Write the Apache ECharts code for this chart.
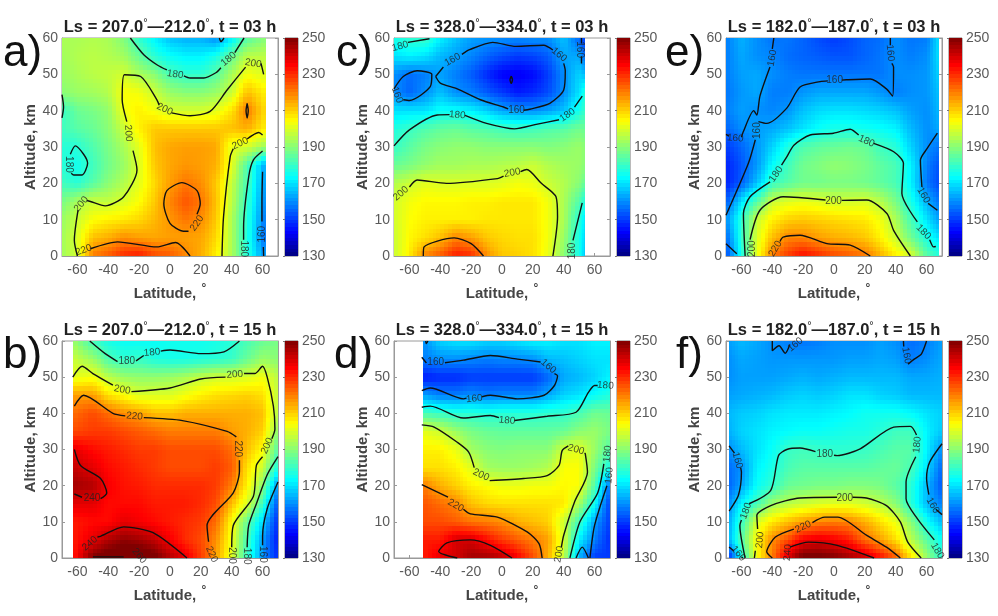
<!DOCTYPE html>
<html><head><meta charset="utf-8">
<style>html,body{margin:0;padding:0;background:#fff}#c{width:998px;height:616px}</style>
<script src="https://cdn.jsdelivr.net/npm/echarts@6/dist/echarts.min.js"></script>
</head><body><div id="c"></div>
<script>
const altitudes=[60,55,50,45,40,35,30,25,20,15,10,5,0];
const latTicks=[-60,-40,-20,0,20,40,60];
const cbTicks=[130,150,170,190,210,230,250];

const latsA=[-70,-60,-50,-40,-30,-20,-10,0,10,20,30,40,50,62];
const tempA=[
[194,194,195,194,189,179,172,166,164,164,160,172,184,190],
[193,195,196,195,193,186,178,174,172,172,176,186,196,196],
[192,194,196,197,199,194,190,182,179,179,184,194,203,200],
[190,192,193,195,204,203,198,192,190,190,192,198,212,206],
[180,186,188,191,203,206,203,199,199,199,201,208,220,208],
[181,184,186,190,198,206,211,211,211,211,211,212,214,206],
[178,178,183,188,194,201,212,215,216,216,215,201,199,192],
[178,175,181,187,192,200,211,215,217,216,214,201,183,162],
[181,178,184,190,195,201,209,216,221,218,211,197,182,160],
[188,194,198,197,200,204,211,219,225,221,212,196,180,158],
[192,198,204,206,207,209,213,217,221,218,211,194,178,156],
[193,200,212,214,218,216,215,216,216,215,209,194,177,155],
[193,199,220,224,230,232,226,224,219,214,206,194,178,160]];
const contoursA=[
[[-25.7,60],[-17,55.4],[-8,52.5],[-2,51.2]],[[9,49.6],[13,49],[22,49],[30,50.5],[33,51.8]],[[42,56],[48,60]],
[[32,60],[33,59],[35,60]],
[[-60,0],[-62,4.3],[-59.6,12.6]],[[-54,15.3],[-51.6,15],[-42,13.8],[-30,16.3],[-21.4,23.7],[-24,29]],[[-28,37],[-31,43],[-29.6,49.9],[-19,49.4],[-8.5,43],[-7,41.5]],[[1,39.4],[13,38.6],[26,39.8],[37,45.7],[49,52]],[[59,53],[60.7,50]],
[[-51.6,2],[-34,3.9],[-8.5,2.5],[3.5,3.7],[13,0]],
[[17.5,11.5],[19.6,14.4],[17.5,18],[7.7,20.2],[-2,18],[-4,14.4],[0,9],[8.8,6.8],[12,6.8]],
[[-64.6,28],[-61.4,30.3],[-56,28],[-53.4,25.5],[-57,22.3],[-62.4,22.3],[-64,22.8]],
[[-70,44.4],[-69,41],[-70,38]],
[[33.7,0],[34.7,10.8],[39,27.3],[41,29.5]],[[50,32.2],[57.5,34],[60,33.3]],
[[47.7,4.5],[47.7,8],[51,21.8],[54,26.4],[60,28.9]],
[[60.7,0],[60.5,2.5]],[[59.6,9.5],[59.6,15],[60,23.2]],
[[50,42],[50.7,40],[50,38],[49.3,40],[50,42]]];
const labelsA=[[3.4,50,'180',-8],[38,54.2,'180',40],[54,53,'200',-10],[-3.5,40.4,'200',-25],[-27,33.8,'200',-85],[-65.7,25.2,'180',-90],[-57.5,14.3,'200',50],[17.5,9,'220',55],[-56,1.6,'220',20],[45.5,31,'200',25],[48,2,'180',-90],[60,6,'160',90]];
const notchA=[-68,-66,0.8];

const latsB=[-63,-50,-40,-30,-20,-10,0,10,20,30,40,50,60,70];
const tempB=[
[192,181,176,174,174,174,175,175,175,176,178,182,186,188],
[198,192,183,179,180,177,176,176,177,178,180,186,192,190],
[201,203,196,192,191,191,192,194,197,199,199,200,203,196],
[216,216,208,204,200,200,200,203,206,208,209,210,208,197],
[222,226,222,218,216,212,212,214,214,214,214,214,212,195],
[226,228,228,226,224,222,220,220,220,220,216,214,210,190],
[238,234,232,230,228,228,226,226,226,226,222,212,204,183],
[242,238,234,232,230,228,226,226,226,228,224,208,198,176],
[246,244,236,233,232,230,230,230,230,228,220,206,190,160],
[238,238,234,234,234,232,232,232,230,226,212,200,180,152],
[232,234,234,238,236,234,232,230,228,222,204,186,168,148],
[232,238,244,248,246,242,236,230,226,218,202,182,162,146],
[232,250,254,256,256,252,244,238,228,216,200,180,160,148]];
const contoursB=[
[[-52,60],[-42,56.5],[-34,54.3]],[[-22,54.5],[-17,56]],[[-6,57.2],[0,57.5],[20,56.5],[35,57],[45,60]],
[[-63,50],[-57,53],[-50,51],[-37,47.8]],[[-25,46],[0,47],[20,49.5],[36,50]],[[48,51],[55,51],[60,53],[63,50],[67,42],[68,35.7],[66,33]],[[60,28],[56,25.6],[54,17],[41,9],[40,3]],
[[70,28],[63,23],[56,15],[51,9],[50,3]],
[[70,21],[63,13.6],[60,6],[60,3.5]],
[[-62,42],[-56,45],[-37,40],[-29,39.3]],[[-17,38.8],[8,38],[37,35],[43,33.5]],[[45,27],[45,24],[41,18],[24,9],[25,4.5]],
[[-62,30],[-58,25.6],[-45,22],[-41,18],[-45,16.4]],[[-57,16.8],[-62,17.7]],
[[-47,5.8],[-45,6],[-30,8.6],[-11,7],[11,0]],
[[-50,0.3],[-30,0.3]]];
const labelsB=[[-28,54.3,'180',0],[-11.7,56.8,'180',5],[-31,46.5,'200',-10],[42,50.7,'200',5],[-23,39.2,'220',-5],[44,30.2,'220',-90],[63,31,'200',65],[-50.5,16.4,'240',0],[-52,4,'240',40],[27,1,'220',-65],[40,0.7,'200',-90],[50,0.5,'180',-90],[60,1,'160',-90],[-20,0.6,'260',-50]];
const notchB=[-63,-60.5,1];

const latsC=[-70,-60,-50,-40,-30,-20,-10,0,10,20,30,40,50,54];
const tempC=[
[176,179,180,172,166,162,161,160,159,160,160,166,155,150],
[170,172,170,165,162,159,155,152,150,151,154,163,163,155],
[160,156,158,162,158,154,148,143,142,144,150,160,168,165],
[160,155,160,166,160,158,154,150,146,148,152,160,170,178],
[170,170,170,174,174,172,168,163,161,160,162,166,176,180],
[177,180,183,185,186,184,183,181,180,181,183,184,187,186],
[180,184,188,190,191,191,190,190,190,190,189,190,192,190],
[186,188,191,193,193,194,194,195,196,198,195,193,192,190],
[195,198,201,200,200,200,200,201,203,202,198,195,190,185],
[199,203,205,205,205,206,206,207,207,207,203,194,183,176],
[199,204,206,206,206,206,207,207,207,207,203,194,178,170],
[198,205,208,212,219,216,211,209,208,208,203,192,176,168],
[198,206,219,224,232,230,218,211,210,208,202,190,176,166]];
const contoursC=[
[[-61,58.8],[-47,59.8]],
[[-43,49.4],[-38,52]],[[-26,55.5],[-21,56.8],[-6,58.8],[9,57.7],[27,58],[33,56.7]],[[40,53],[41,51],[40,45.7],[31,42],[18,40.4],[14,40.1]],[[4,40.5],[1,41],[-14,43],[-29,46],[-40,47.6],[-43,49.4]],
[[-70,46],[-64,49.4],[-55,51],[-45.5,50],[-46.5,46.6],[-60,42.8],[-64,43]],
[[51.5,60],[51.5,58.5]],[[51.5,55],[51.5,53]],
[[6,49.5],[6.8,48.5],[6,47.5],[5.2,48.5],[6,49.5]],
[[-70,30.3],[-60,34.7],[-42,38.8],[-34,38.9]],[[-24,38.7],[-10,36.5],[8,35],[23,36.3],[37,37.5]],[[47,41],[52,44]],
[[-60,19],[-55,20.9],[-36,20],[-3,21.3],[1,22]],[[12,23.2],[16,23.8],[25.5,20],[35,16.3],[36,10.8],[33,0]],
[[-51,0],[-50.5,2.5],[-31,5],[-20,3.4],[-12,0]],
[[52,14.6],[46,4.3]]];
const labelsC=[[-66,57.7,'180',15],[-32,54,'160',30],[37,55.4,'160',-40],[50.6,56.8,'160',-90],[9.4,40.2,'160',0],[-29,38.8,'180',-5],[42.4,38.8,'180',35],[-68,44.3,'160',-70],[-65.5,17.2,'200',40],[6.6,22.9,'200',10],[45.6,1.4,'180',90]];
const notchC=[-64.5,-62,0.8];

const latsD=[-51,-40,-30,-20,-10,0,10,20,30,40,50,60,70];
const tempD=[
[160,168,170,170,168,168,170,172,172,170,170,172,172],
[158,160,160,159,158,159,159,160,165,166,168,170,170],
[146,148,148,150,150,150,150,150,155,163,165,168,172],
[162,158,158,160,158,159,159,159,163,168,170,174,177],
[182,180,178,178,177,178,178,178,179,179,182,187,186],
[201,198,192,188,186,185,185,185,185,186,190,192,188],
[206,206,202,193,190,189,190,190,190,199,201,192,183],
[208,208,206,201,193,192,192,193,195,204,204,188,176],
[220,214,210,206,204,202,202,203,203,205,204,183,156],
[225,222,219,212,209,208,208,208,208,207,194,174,150],
[226,226,224,221,220,218,214,212,210,198,181,162,150],
[232,232,240,240,234,228,224,220,216,199,172,158,148],
[232,238,240,246,246,243,236,226,214,196,164,150,150]];
const contoursD=[
[[-52,55.5],[-49,53.9]],[[-37,54],[-25,54.7],[-7.5,56],[10,55],[25,54.2]],[[34,51],[36,50.4],[34,47.7],[27.3,45],[10,44],[-7.5,45],[-13,44.6]],[[-23,44.2],[-25,44],[-46.5,47],[-52,46.3]],
[[-49.5,60],[-49,59.3],[-48,60]],
[[-52,41.7],[-46.5,42],[-25,38.7],[-7.5,39.4],[-2,38.8]],[[8,38],[29.3,39.2],[48,40.3],[56,45.8],[60,47.7],[62,47.7]],
[[-52,36.8],[-44,36.2],[-29,32],[-21.6,29.3],[-18,25]],[[-8,21.4],[14,22],[29.3,22.8],[37,25.6],[39,29.7],[43,31]],[[53.5,29],[54,28.8],[55.4,23.7],[47,15.5],[40,6.3],[38.5,3]],
[[-52,20.3],[-35,16.8]],[[-25,13.5],[-20.5,12.2],[-3,11.3],[16.3,7.2],[24,4],[26,0]],
[[-29,0],[-41,1.8],[-35.7,4.2],[-20.5,5],[-7.5,3.5],[6.5,0]],
[[66,26],[62,18],[50.5,10],[44,0]],
[[68,20],[60,9],[57,0]],[[48,0],[52,3],[56,0]]];
const labelsD=[[-43,54,'160',0],[30,53,'160',-40],[-18,44,'160',5],[3.3,38,'180',-5],[67,47.7,'180',-5],[-13.6,23,'200',-25],[48,30,'200',-15],[-30,14.5,'220',-30],[68.4,28.8,'180',85],[69.5,22.8,'160',85],[37,1,'200',80]];
const notchD=[-51,-49.5,2];

const latsE=[-70,-60,-50,-40,-30,-20,-10,0,10,20,30,40,50,60,68];
const tempE=[
[158,164,160,157,157,155,152,150,152,155,156,160,157,158,170],
[158,163,160,159,156,155,154,153,153,155,157,160,158,160,170],
[158,162,163,160,158,157,157,157,157,157,157,160,160,161,168],
[157,161,163,158,158,161,163,163,163,163,161,158,160,161,166],
[158,162,160,159,161,166,169,170,170,169,168,166,162,160,165],
[155,160,162,163,166,170,174,176,176,175,174,172,165,160,163],
[150,155,161,168,177,183,185,186,187,186,181,178,168,160,157],
[147,153,161,173,181,187,189,191,190,188,185,182,172,158,153],
[147,154,166,180,184,187,187,188,188,187,185,182,172,157,152],
[154,170,184,198,201,202,201,199,199,200,196,188,176,164,157],
[160,178,198,206,210,211,210,209,208,207,203,194,182,170,162],
[155,178,200,212,219,219,216,214,213,211,206,198,187,176,170],
[152,175,202,220,228,234,230,226,224,221,214,206,200,184,178]];
const contoursE=[
[[-39,60],[-40,57]],[[-41.5,52],[-48,44],[-50,38.8],[-52,40],[-59,34],[-60,32.7]],[[-68,33],[-70,33.5]],
[[36.5,60],[36.5,58]],[[37.5,53],[38.6,52],[38,44],[34,46],[23.5,48.7],[8,48.5],[5,48.4]],[[-4,48.2],[-9,48],[-22,46.5],[-30.6,40.7],[-43.6,36.5],[-49,37]],[[-51,32],[-55.5,25.5],[-70,11.2]],
[[-57.6,0],[-58.7,11.7],[-54.4,16.3],[-41.4,20.4]],[[-34,25],[-30.6,27.3],[-26,30.5],[-15.5,33.3],[-0.3,33.8],[10.5,34.9],[16,33.3]],[[25.7,31],[38.7,28.7],[45,25.5],[44,17.2],[54,9.4]],[[62,4.5],[64.6,2.5],[66,2.6]],
[[-54.4,4.5],[-48,12.6],[-33,16.3],[-5.5,15.4]],[[5,15.3],[21.3,15.4],[34.3,11.7],[38.7,7],[49.5,0]],
[[-35,4],[-33,5.2],[-22,5.7],[-4.6,3.4],[10.5,3],[23.5,0]],
[[67,33.8],[60.4,29.6],[56,26.4],[57,19]],[[61,14.5],[67,12.6]],
[[-70,3.4],[-63,0.6]]];
const labelsE=[[-40,54.5,'160',80],[-64,32.4,'160',-5],[-50,34.5,'160',90],[0.4,48.3,'160',0],[36.5,55.9,'160',-85],[-37.5,22.5,'180',55],[21,31.6,'180',-25],[-0.3,15,'200',0],[-38,2,'220',60],[-53.3,2,'200',90],[58,16.7,'160',-60],[58,6.6,'180',-45]];
const notchE=[-64,-60,1];

const latsF=[-68,-60,-50,-40,-30,-20,-10,0,10,20,30,40,50,60,70];
const tempF=[
[162,165,163,160,158,157,158,160,160,160,162,160,156,158,162],
[160,163,162,161,161,161,161,161,162,162,163,162,158,160,163],
[160,162,162,162,163,164,163,164,165,165,165,165,163,163,164],
[162,163,164,165,167,168,167,168,170,170,168,167,165,165,165],
[165,167,168,170,171,171,171,172,173,175,175,175,173,170,168],
[164,168,170,172,173,174,174,175,176,176,178,181,181,172,167],
[160,165,170,174,180,181,180,179,179,180,182,184,184,172,160],
[156,160,172,176,182,184,184,184,184,184,185,186,182,170,155],
[155,162,174,179,186,187,188,188,189,189,188,184,178,165,153],
[160,172,182,192,196,198,200,201,201,199,196,190,178,165,158],
[163,179,200,207,212,216,219,220,219,214,208,202,190,175,165],
[164,183,205,218,226,236,238,236,232,222,216,208,196,184,174],
[148,174,204,220,240,252,252,250,246,242,234,224,208,192,178]];
const contoursF=[
[[-40,60],[-40,57.3],[-35.6,58.7],[-31.6,56.6],[-28.6,59]],
[[45,60],[45.2,58.5]],[[48,53.6],[52,55],[56.6,56.4],[60,60]],
[[-68,31],[-64.5,29]],[[-60.5,25],[-60,23.7],[-62,17.3],[-68,13]],
[[70,31.6],[62,26.5],[60,22],[61.5,17.5]],[[66,13.5],[70,12]],
[[-57.6,0],[-61,9],[-60,10.5]],[[-55,15],[-41,18.7],[-36,28.3],[-30.6,30],[-22,30.4],[-12,29.4]],[[0,28.4],[2,28.3],[17,30.2],[38.7,36.2],[49.5,36.4],[53.5,34]],[[53,28],[46.7,21],[46.7,16.4],[54,10.9],[65,5]],
[[-51.6,0],[-51,2]],[[-49.5,8],[-50,11.8],[-41,14.5],[-22,16.6],[2,16.8]],[[12,16.8],[21,16.6],[34,14.5],[43,10],[47.8,4.4],[56.5,0]],
[[-40,0],[-43.6,1.7],[-38,5.8],[-26,8]],[[-14,9.8],[-6,11.3],[2.5,11.3],[21,6.3],[34,3],[43,0]],
[[-28.6,3],[-16.5,4.4],[2,3.5],[26,0]],
[[-68,3],[-65,2]],[[-59,0],[-60,0.3]]];
const labelsF=[[-25,59,'160',40],[47,56,'160',-80],[-62.6,27,'160',-75],[64,14.5,'160',-60],[-57,13,'180',70],[-6,28.6,'180',0],[54,31.3,'180',85],[67,2,'180',-60],[7,16.6,'200',0],[-48,5,'200',85],[-20,8.6,'220',25],[-30,1.5,'240',85],[-62,1.2,'160',-50]];
const notchF=[-67,-64,0.8];

const panels=[
 {tag:'a)',ls:['207.0','212.0'],t:'03',lats:latsA,temp:tempA,cont:contoursA,lab:labelsA,notch:notchA,x:62,y:38,h:218,cb:285,cbw:13,tx:3,ty:32},
 {tag:'b)',ls:['207.0','212.0'],t:'15',lats:latsB,temp:tempB,cont:contoursB,lab:labelsB,notch:notchB,x:62,y:341,h:217,cb:285,cbw:13,tx:3,ty:334},
 {tag:'c)',ls:['328.0','334.0'],t:'03',lats:latsC,temp:tempC,cont:contoursC,lab:labelsC,notch:notchC,x:394,y:38,h:218,cb:617,cbw:13,tx:336,ty:32},
 {tag:'d)',ls:['328.0','334.0'],t:'15',lats:latsD,temp:tempD,cont:contoursD,lab:labelsD,notch:notchD,x:394,y:341,h:217,cb:617,cbw:13,tx:334,ty:334},
 {tag:'e)',ls:['182.0','187.0'],t:'03',lats:latsE,temp:tempE,cont:contoursE,lab:labelsE,notch:notchE,x:726,y:38,h:218,cb:949,cbw:13,tx:665,ty:32},
 {tag:'f)',ls:['182.0','187.0'],t:'15',lats:latsF,temp:tempF,cont:contoursF,lab:labelsF,notch:notchF,x:726,y:341,h:217,cb:949,cbw:13,tx:676,ty:334}
];

const FONT='"Liberation Sans",Arial,sans-serif', GRAY='#5a5a5a', AXC='#9a9a9a';
const JET=[[0,[0,0,128]],[0.11,[0,0,255]],[0.36,[0,255,255]],[0.62,[255,255,0]],[0.875,[255,0,0]],[1,[128,0,0]]];
function jet(v){
  const t=Math.max(0,Math.min(1,(v-130)/120));
  for(let i=1;i<JET.length;i++){
    if(t<=JET[i][0]){
      const a=JET[i-1],b=JET[i],f=(t-a[0])/(b[0]-a[0]);
      return 'rgb('+a[1].map((c,k)=>Math.round(c+(b[1][k]-c)*f)).join(',')+')';
    }
  }
  return 'rgb(128,0,0)';
}
const SUB=4;
function cellItem(params,api){
  const lat0=api.value(0),lat1=api.value(1),alt0=api.value(2),alt1=api.value(3);
  const v=[api.value(4),api.value(5),api.value(6),api.value(7)];
  const children=[];
  for(let i=0;i<SUB;i++)for(let j=0;j<SUB;j++){
    const fx=i/SUB,fy=j/SUB,gx=(i+1)/SUB,gy=(j+1)/SUB;
    const p0=api.coord([lat0+(lat1-lat0)*fx,alt0+(alt1-alt0)*fy]);
    const p1=api.coord([lat0+(lat1-lat0)*gx,alt0+(alt1-alt0)*gy]);
    const cx=(fx+gx)/2,cy=(fy+gy)/2;
    const val=v[0]*(1-cx)*(1-cy)+v[1]*cx*(1-cy)+v[2]*(1-cx)*cy+v[3]*cx*cy;
    const x0=Math.round(Math.min(p0[0],p1[0])),x1=Math.round(Math.max(p0[0],p1[0]));
    const y0=Math.round(Math.min(p0[1],p1[1])),y1=Math.round(Math.max(p0[1],p1[1]));
    children.push({type:'rect',shape:{x:x0,y:y0,width:x1-x0,height:y1-y0},style:{fill:jet(val)},silent:true});
  }
  return {type:'group',children};
}
function barItem(params,api){
  const a=api.coord([0,api.value(0)]),b=api.coord([1,api.value(1)]);
  const y0=Math.round(Math.min(a[1],b[1])),y1=Math.round(Math.max(a[1],b[1]));
  return {type:'rect',shape:{x:Math.round(a[0]),y:y0,width:Math.round(b[0]-a[0]),height:y1-y0},style:{fill:jet((api.value(0)+api.value(1))/2)},silent:true};
}
const cbLevels=[];for(let v=130;v<250;v+=2)cbLevels.push([v,v+2]);

const option={animation:false,backgroundColor:'#fff',textStyle:{fontFamily:FONT},
  title:[],grid:[],xAxis:[],yAxis:[],series:[],graphic:[]};
const tickStyle={color:GRAY,fontSize:14,fontFamily:FONT};
panels.forEach((p)=>{
  const g=option.grid.length;
  option.grid.push({left:p.x,top:p.y,width:216,height:p.h,show:true,borderColor:AXC,borderWidth:1,backgroundColor:'#fff'});
  option.grid.push({left:p.cb,top:p.y,width:p.cbw,height:p.h,show:true,borderColor:'#777',borderWidth:1});
  const xa=option.xAxis.length;
  option.xAxis.push({gridIndex:g,type:'value',min:-70,max:70,splitLine:{show:false},
    axisLine:{show:true,onZero:false,lineStyle:{color:AXC}},
    axisTick:{show:true,inside:true,length:3,lineStyle:{color:AXC},customValues:latTicks},
    axisLabel:{...tickStyle,margin:7,customValues:latTicks},
    name:'Latitude, {d|°}',nameLocation:'middle',nameGap:27,
    nameTextStyle:{color:'#444',fontSize:15,fontWeight:'bold',fontFamily:FONT,rich:{d:{fontSize:12,color:'#444',padding:[0,0,9,1]}}}});
  option.xAxis.push({gridIndex:g+1,type:'value',min:0,max:1,show:false});
  const ya=option.yAxis.length;
  option.yAxis.push({gridIndex:g,type:'value',min:0,max:60,interval:10,splitLine:{show:false},
    axisLine:{show:true,onZero:false,lineStyle:{color:AXC}},
    axisTick:{show:true,inside:true,length:3,lineStyle:{color:AXC}},
    axisLabel:{...tickStyle,margin:4},
    name:'Altitude, km',nameLocation:'middle',nameGap:20,
    nameTextStyle:{color:'#444',fontSize:15,fontWeight:'bold',fontFamily:FONT}});
  option.yAxis.push({gridIndex:g,type:'value',min:0,max:60,interval:10,position:'right',splitLine:{show:false},
    axisLine:{show:true,onZero:false,lineStyle:{color:AXC}},
    axisTick:{show:true,inside:true,length:3,lineStyle:{color:AXC}},axisLabel:{show:false}});
  option.yAxis.push({gridIndex:g+1,type:'value',min:130,max:250,position:'right',splitLine:{show:false},
    axisLine:{show:false},
    axisTick:{show:true,inside:true,length:2,lineStyle:{color:'#777'},customValues:cbTicks},
    axisLabel:{...tickStyle,margin:4,customValues:cbTicks}});
  option.title.push({text:'Ls = '+p.ls[0]+'{d|°}—'+p.ls[1]+'{d|°}, t = '+p.t+' h',left:p.x+103,top:p.y-26,textAlign:'center',
    textStyle:{fontFamily:FONT,fontSize:16.5,fontWeight:'bold',color:'#222',rich:{d:{fontSize:11,fontWeight:'normal',color:'#222',padding:[0,0,9,0]}}}});
  option.graphic.push({type:'text',left:p.tx,top:p.ty,silent:true,style:{text:p.tag,font:'44px '+FONT,fill:'#111'}});
  // shaded cells
  const cells=[];
  for(let r=0;r<altitudes.length-1;r++)for(let c=0;c<p.lats.length-1;c++){
    cells.push([p.lats[c],p.lats[c+1],altitudes[r],altitudes[r+1],p.temp[r][c],p.temp[r][c+1],p.temp[r+1][c],p.temp[r+1][c+1]]);
  }
  option.series.push({type:'custom',xAxisIndex:xa,yAxisIndex:ya,coordinateSystem:'cartesian2d',data:cells,renderItem:cellItem,
    encode:{x:[0,1],y:[2,3]},silent:true,z:2,progressive:0,clip:true});
  // contours
  const lineData=[];
  p.cont.forEach(seg=>{seg.forEach(pt=>lineData.push(pt));lineData.push([null,null]);});
  option.series.push({type:'line',xAxisIndex:xa,yAxisIndex:ya,data:lineData,showSymbol:false,symbol:'none',smooth:0.25,connectNulls:false,
    lineStyle:{color:'#111',width:1.4},z:4,silent:true,
    markArea:{silent:true,itemStyle:{color:'#fff'},data:[[{coord:[p.notch[0],0]},{coord:[p.notch[1],p.notch[2]]}]]}});
  // contour labels
  option.series.push({type:'scatter',xAxisIndex:xa,yAxisIndex:ya,symbolSize:0,z:5,silent:true,
    data:p.lab.map(l=>({value:[l[0],l[1]],label:{show:true,position:'inside',formatter:l[2],rotate:l[3],fontSize:10,color:'#222',fontFamily:FONT}}))});
  // colour bar
  option.series.push({type:'custom',xAxisIndex:xa+1,yAxisIndex:ya+2,coordinateSystem:'cartesian2d',data:cbLevels,renderItem:barItem,
    encode:{y:[0,1]},silent:true,z:2,progressive:0});
});
const chart=echarts.init(document.getElementById('c'),null,{renderer:'canvas'});
chart.setOption(option);
</script></body></html>
